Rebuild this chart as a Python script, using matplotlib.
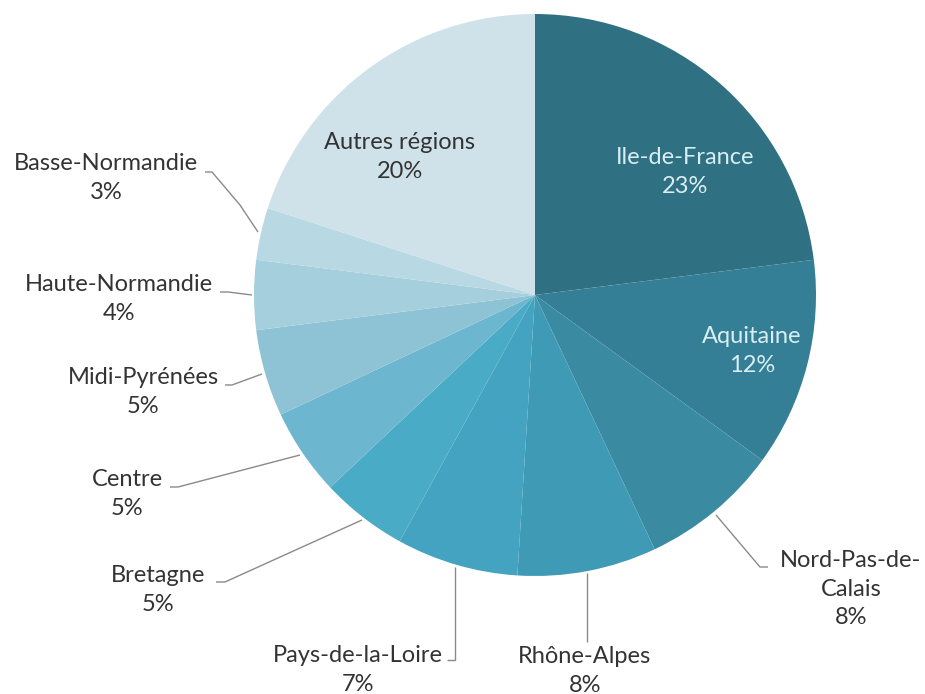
import matplotlib
matplotlib.use("Agg")
import matplotlib.pyplot as plt

regions = ["Ile-de-France", "Aquitaine", "Nord-Pas-de-\nCalais", "Rhône-Alpes",
           "Pays-de-la-Loire", "Bretagne", "Centre", "Midi-Pyrénées",
           "Haute-Normandie", "Basse-Normandie", "Autres régions"]
shares = [23, 12, 8, 8, 7, 5, 5, 5, 4, 3, 20]
colors = ["#2f7083", "#347f95", "#3a8ba2", "#3f9bb5", "#43a3c0", "#4aabc6",
          "#6db6cf", "#8ec3d6", "#a6cfde", "#b8d8e4", "#cfe2ea"]

W, H = 925, 694
plt.rcParams['font.family'] = ['Lato', 'DejaVu Sans']

fig = plt.figure(figsize=(W / 100, H / 100), dpi=100)
ax = fig.add_axes([0, 0, 1, 1])
cx, cy, r = 535, H - 295, 281
ax.pie(shares, colors=colors, startangle=90, counterclock=False,
       center=(cx, cy), radius=r, wedgeprops=dict(linewidth=0))
ax.set_xlim(0, W)
ax.set_ylim(0, H)
ax.set_aspect('equal')
ax.axis('off')

def Y(y):
    return H - y

fs = 17
dark = "#333333"
light = "#d8eef3"
line_c = "#8a8a8a"

# label positions (pixel coords, top-origin) and leader lines
labels = {
    0: ((685, 172), None, light),
    1: ((752, 351), None, light),
    2: ((851, 589), [(716, 515), (760, 567), (768, 567)], dark),
    3: ((585, 671), [(587, 573), (587, 642)], dark),
    4: ((358, 670), [(455, 567), (455, 660), (447, 660)], dark),
    5: ((158, 590), [(362, 520), (300, 548), (225, 582), (216, 582)], dark),
    6: ((127, 494), [(300, 455), (178, 487), (170, 487)], dark),
    7: ((143, 392), [(262, 374), (232, 385), (225, 385)], dark),
    8: ((119, 299), [(252, 295), (228, 292), (220, 292)], dark),
    9: ((106, 178), [(258, 232), (240, 205), (212, 172), (205, 172)], dark),
    10: ((400, 157), None, dark),
}

for i, (name, val) in enumerate(zip(regions, shares)):
    (tx, ty), pts, col = labels[i]
    ax.text(tx, Y(ty), f"{name}\n{val}%", ha="center", va="center",
            fontsize=fs, color=col, linespacing=1.45)
    if pts:
        ax.plot([p[0] for p in pts], [Y(p[1]) for p in pts], color=line_c,
                lw=1.0, solid_capstyle="butt")

fig.savefig("out.png", dpi=100)
